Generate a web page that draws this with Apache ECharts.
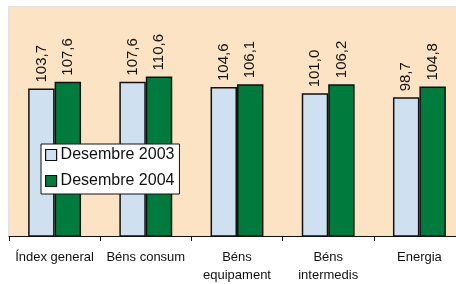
<!DOCTYPE html>
<html>
<head>
<meta charset="utf-8">
<script src="https://cdn.jsdelivr.net/npm/echarts@6/dist/echarts.min.js"></script>
<style>
  html, body { margin: 0; padding: 0; background: #fff; overflow: hidden; }
  /* the plot runs past the right edge of the picture, as in the original */
  #chart { width: 470px; height: 284px; }
</style>
</head>
<body>
<div id="chart"></div>
<script>
const categories = [
  "Índex general",
  "Béns consum",
  "Béns\nequipament",
  "Béns\nintermedis",
  "Energia",
];
const seriesNames = ["Desembre 2003", "Desembre 2004"];
const dec2003 = [103.7, 107.6, 104.6, 101.0, 98.7];
const dec2004 = [107.6, 110.6, 106.1, 106.2, 104.8];
const seriesColors = ["#cfe0f0", "#007b3e"];

const fontFamily = "'Liberation Sans', Arial, sans-serif";

// values are printed with a decimal comma
const fmt = (p) => p.value.toFixed(1).replace(".", ",");

function barSeries(name, data, color) {
  return {
    name: name,
    type: "bar",
    data: data,
    barGap: "0%",
    barCategoryGap: "42%",
    itemStyle: { color: color, borderColor: "#111", borderWidth: 1.5 },
    label: {
      show: true,
      position: "top",
      distance: 6,
      rotate: 90,
      align: "left",
      verticalAlign: "middle",
      formatter: fmt,
      color: "#111",
      fontSize: 15,
      fontFamily: fontFamily,
    },
  };
}

const chart = echarts.init(document.getElementById("chart"));
chart.setOption({
  animation: false,
  grid: {
    left: 9,
    right: 5,
    top: 7,
    bottom: 44,
    show: true,
    backgroundColor: "#fce3c4",
    borderColor: "#e4e4e4",
    borderWidth: 2,
  },
  legend: {
    orient: "vertical",
    left: 41,
    top: 144,
    data: seriesNames,
    backgroundColor: "#fff",
    borderColor: "#111",
    borderWidth: 1,
    borderRadius: 0,
    padding: [3, 5, 5, 4],
    itemGap: 10,
    itemWidth: 11,
    itemHeight: 11,
    itemStyle: { borderColor: "#111", borderWidth: 1.2 },
    icon: "rect",
    textStyle: {
      fontSize: 16,
      lineHeight: 16,
      color: "#111",
      fontFamily: fontFamily,
      padding: [0, 0, 0, -1],
    },
  },
  xAxis: {
    type: "category",
    data: categories,
    axisLine: { lineStyle: { color: "#111", width: 1 } },
    axisTick: { show: true, length: 5, lineStyle: { color: "#111" } },
    axisLabel: {
      margin: 12,
      color: "#111",
      fontSize: 13,
      lineHeight: 18,
      fontFamily: fontFamily,
      interval: 0,
    },
  },
  yAxis: {
    type: "value",
    min: 20,
    max: 150,
    show: false,
    splitLine: { show: false },
  },
  series: [
    barSeries(seriesNames[0], dec2003, seriesColors[0]),
    barSeries(seriesNames[1], dec2004, seriesColors[1]),
  ],
});
</script>
</body>
</html>
